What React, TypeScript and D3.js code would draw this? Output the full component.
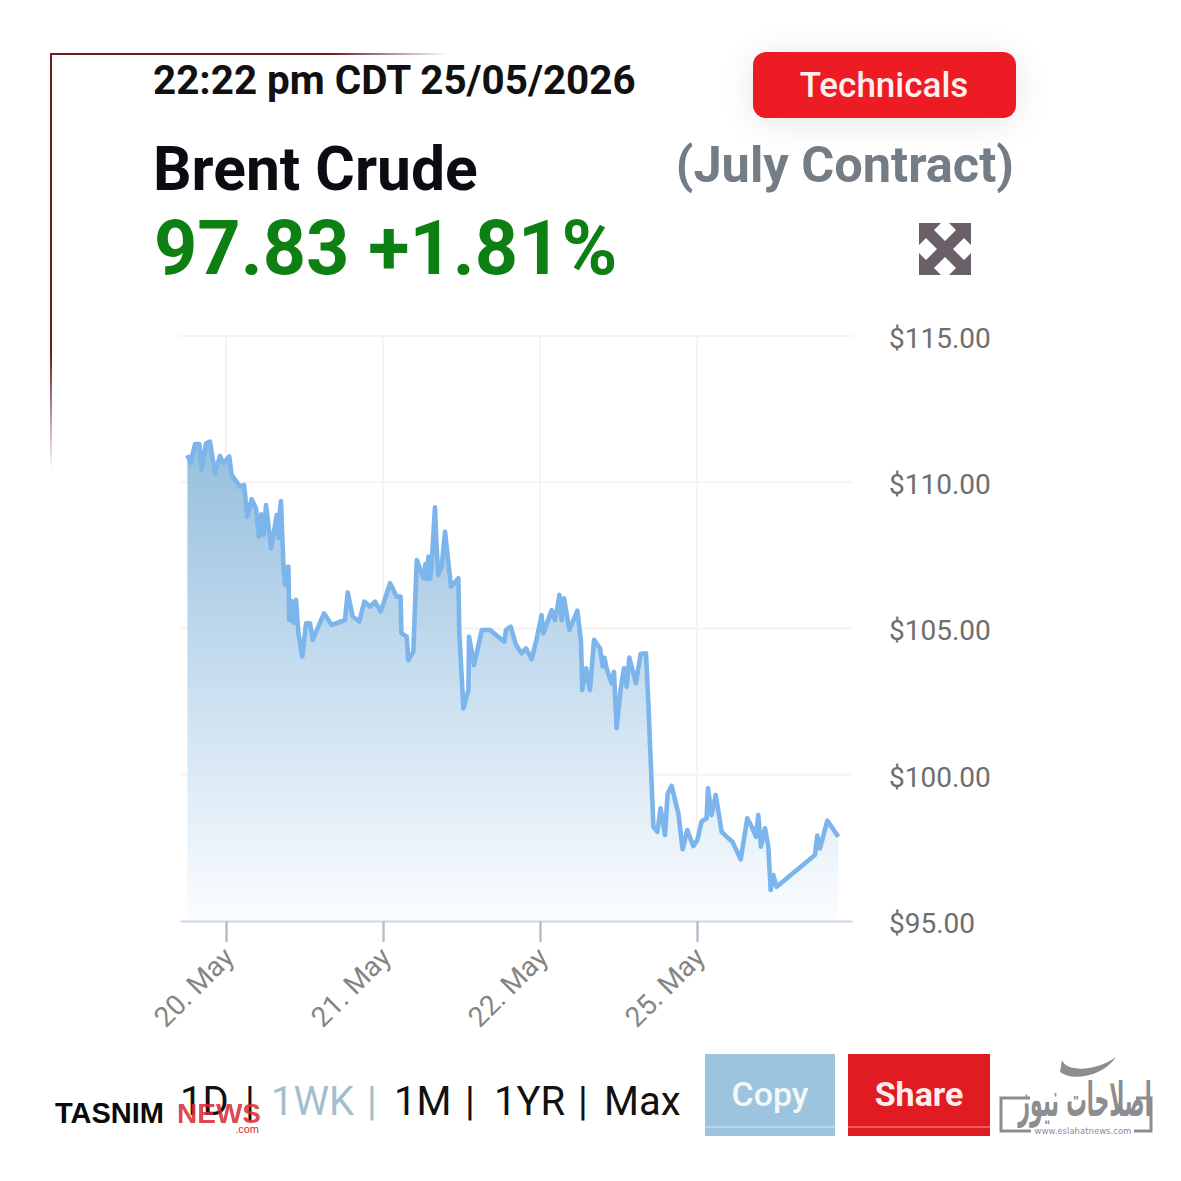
import React, { useEffect, useRef } from "react"
import * as d3 from "d3"

const WIDTH = 1181
const HEIGHT = 1181
const FONT = "Roboto, sans-serif"

// x = trading days after the 20. May tick, y = price in dollars
const dayOffsets = [
    -0.246, -0.225, -0.197, -0.17, -0.155, -0.127, -0.102, -0.07, -0.038, -0.017, 0.021, 0.036,
    0.089, 0.115, 0.136, 0.163, 0.191, 0.21, 0.225, 0.24, 0.255, 0.287, 0.323, 0.335, 0.343, 0.35, 0.365, 0.376, 0.397, 0.403,
    0.415, 0.43, 0.446, 0.461, 0.486, 0.51, 0.535, 0.552, 0.624, 0.673, 0.758, 0.775, 0.807, 0.849, 0.881, 0.917,
    0.949, 0.985, 1.045, 1.087, 1.112, 1.117, 1.151, 1.161, 1.193, 1.215, 1.257, 1.27, 1.28, 1.289, 1.3, 1.31, 1.331,
    1.34, 1.352, 1.374, 1.395, 1.433, 1.48, 1.486, 1.512, 1.544, 1.548, 1.58, 1.629, 1.682, 1.773, 1.783,
    1.813, 1.847, 1.883, 1.911, 1.947, 1.979, 2.01, 2.021, 2.074, 2.095, 2.11, 2.123, 2.138, 2.153, 2.187,
    2.238, 2.261, 2.269, 2.293, 2.318, 2.344, 2.382, 2.4, 2.41, 2.424, 2.456, 2.471, 2.488, 2.514, 2.535, 2.552,
    2.569, 2.611, 2.641, 2.675, 2.69, 2.722, 2.747, 2.768, 2.796, 2.813, 2.838, 2.881, 2.908, 2.938,
    2.976, 3.002, 3.029, 3.061, 3.07, 3.093, 3.119, 3.157, 3.189, 3.225, 3.278, 3.32, 3.348, 3.376,
    3.39, 3.407, 3.433, 3.454, 3.469, 3.486, 3.507, 3.751, 3.766, 3.783, 3.83, 3.9,
]
const prices = [
    110.93, 110.67, 111.31, 111.31, 110.44, 111.33, 111.39, 110.31, 110.9, 110.65, 110.88, 110.25,
    109.85, 109.91, 108.82, 109.42, 109.11, 108.14, 108.9, 108.2, 109.22, 107.74, 108.88, 108.1, 109.0, 109.36, 107.23, 106.49, 107.12, 105.29,
    105.95, 105.2, 105.98, 104.84, 104.04, 105.18, 105.18, 104.61, 105.52, 105.12, 105.29, 106.23, 105.41, 105.24, 105.92, 105.75,
    105.92, 105.58, 106.55, 106.09, 106.09, 104.84, 104.72, 103.92, 104.21, 107.34, 106.72, 107.2, 106.7, 107.46, 106.7, 107.23, 109.14,
    107.9, 106.83, 107.12, 108.31, 106.43, 106.72, 104.84, 102.27, 102.9, 104.72, 103.75, 104.95, 104.95, 104.55, 104.95,
    105.06, 104.44, 104.15, 104.32, 103.95, 104.66, 105.46, 104.83, 105.63, 105.29, 105.7, 106.15, 105.29, 106.03, 104.95,
    105.61, 104.55, 102.9, 103.64, 102.9, 104.61, 104.32, 103.7, 104.0, 103.64, 103.13, 103.52, 101.59, 102.95, 103.64, 103.01,
    104.01, 103.13, 104.13, 104.15, 102.44, 98.23, 98.05, 98.85, 97.94, 99.36, 99.62, 98.68, 97.45, 98.11,
    97.56, 97.77, 98.4, 98.51, 99.54, 98.62, 99.31, 98.05, 97.88, 97.71, 97.11, 98.51, 98.23, 97.88,
    98.62, 97.54, 98.17, 97.54, 96.06, 96.57, 96.17, 97.26, 97.92, 97.48, 98.43, 97.88,
]

const priceTicks = [95, 100, 105, 110, 115]
const dayTicks = [0, 1, 2, 3]
const dayLabels = ["20. May", "21. May", "22. May", "25. May"]

const timestamp = "22:22 pm CDT 25/05/2026"
const title = "Brent Crude"
const quote = "97.83 +1.81%"
const contract = "(July Contract)"

const rangeLabels = ["1D", "|", "1WK", "|", "1M", "|", "1YR", "|", "Max"]
const rangeX = [180, 245, 271, 367, 394, 465, 494, 578, 604]
const rangeColors = ["#111", "#111", "#a3bfce", "#a3bfce", "#111", "#111", "#111", "#111", "#111"]

const EXPAND_ICON =
    "M0 0H22L15 7L26 18L37 7L30 0H52V22L45 15L34 26L45 37L52 30V52H30L37 45L26 34L15 45L22 52H0V30L7 37L18 26L7 15L0 22Z"

const App: React.FC = () => {
    const svgRef = useRef<SVGSVGElement | null>(null)

    useEffect(() => {
        if (!svgRef.current) return
        const svg = d3.select(svgRef.current)
        svg.selectAll("*").remove()

        const x = d3.scaleLinear().domain([-0.293, 3.987]).range([180, 852])
        const y = d3.scaleLinear().domain([95, 115]).range([921, 336])
        const points = dayOffsets.map((d, i) => [d, prices[i]] as [number, number])

        const defs = svg.append("defs")

        const fill = defs
            .append("linearGradient")
            .attr("id", "areaFill")
            .attr("gradientUnits", "userSpaceOnUse")
            .attr("x1", 0)
            .attr("x2", 0)
            .attr("y1", y(d3.max(prices)!))
            .attr("y2", y(95))
        fill.append("stop").attr("offset", 0).attr("stop-color", "#94bfdc")
        fill.append("stop").attr("offset", 0.45).attr("stop-color", "#c3dbee")
        fill.append("stop").attr("offset", 1).attr("stop-color", "#fbfdff")

        // faded dark red corner
        const fadeX = defs
            .append("linearGradient")
            .attr("id", "fadeX")
            .attr("gradientUnits", "userSpaceOnUse")
            .attr("x1", 50)
            .attr("x2", 450)
            .attr("y1", 0)
            .attr("y2", 0)
        fadeX.append("stop").attr("offset", 0.7).attr("stop-color", "#6e1c1f")
        fadeX.append("stop").attr("offset", 1).attr("stop-color", "#6e1c1f").attr("stop-opacity", 0)
        const fadeY = defs
            .append("linearGradient")
            .attr("id", "fadeY")
            .attr("gradientUnits", "userSpaceOnUse")
            .attr("x1", 0)
            .attr("x2", 0)
            .attr("y1", 54)
            .attr("y2", 470)
        fadeY.append("stop").attr("offset", 0.72).attr("stop-color", "#6e1c1f")
        fadeY.append("stop").attr("offset", 1).attr("stop-color", "#6e1c1f").attr("stop-opacity", 0)

        defs.append("filter")
            .attr("id", "glow")
            .attr("x", "-30%")
            .attr("y", "-80%")
            .attr("width", "160%")
            .attr("height", "260%")
            .append("feGaussianBlur")
            .attr("stdDeviation", 18)

        svg.append("rect").attr("x", 50).attr("y", 53).attr("width", 400).attr("height", 2).attr("fill", "url(#fadeX)")
        svg.append("rect").attr("x", 50).attr("y", 54).attr("width", 2).attr("height", 416).attr("fill", "url(#fadeY)")

        // header
        const addText = (
            label: string,
            tx: number,
            ty: number,
            size: number,
            weight: number,
            color: string,
            anchor = "start"
        ) =>
            svg
                .append("text")
                .attr("x", tx)
                .attr("y", ty)
                .attr("font-family", FONT)
                .attr("font-size", size)
                .attr("font-weight", weight)
                .attr("fill", color)
                .attr("text-anchor", anchor)
                .text(label)

        addText(timestamp, 153, 94, 40.4, 700, "#111")
        addText(title, 153, 190, 60.5, 700, "#0b0b12")
        addText(quote, 154, 274, 75.6, 700, "#0e8013")
        addText(contract, 1014, 182, 50.5, 700, "#747c86", "end")

        svg.append("rect")
            .attr("x", 753)
            .attr("y", 56)
            .attr("width", 263)
            .attr("height", 66)
            .attr("rx", 14)
            .attr("fill", "#000")
            .attr("opacity", 0.1)
            .attr("filter", "url(#glow)")
        svg.append("rect")
            .attr("x", 753)
            .attr("y", 52)
            .attr("width", 263)
            .attr("height", 66)
            .attr("rx", 13)
            .attr("fill", "#ed1c24")
        addText("Technicals", 884, 97, 35, 500, "#fdeef0", "middle")

        svg.append("path")
            .attr("transform", "translate(919,223)")
            .attr("d", EXPAND_ICON)
            .attr("fill", "#6b5f68")

        // grid
        const chart = svg.append("g")
        chart
            .selectAll("line.gridY")
            .data(priceTicks.filter(d => d !== 95))
            .enter()
            .append("line")
            .attr("x1", 180)
            .attr("x2", 852)
            .attr("y1", d => y(d))
            .attr("y2", d => y(d))
            .attr("stroke", "#f4f4f6")
            .attr("stroke-width", 2)
        chart
            .selectAll("line.gridX")
            .data(dayTicks)
            .enter()
            .append("line")
            .attr("x1", d => x(d))
            .attr("x2", d => x(d))
            .attr("y1", 336)
            .attr("y2", 921)
            .attr("stroke", "#f4f4f6")
            .attr("stroke-width", 2)

        // series
        const area = d3
            .area<[number, number]>()
            .x(d => x(d[0]))
            .y0(y(95))
            .y1(d => y(d[1]))
        const line = d3
            .line<[number, number]>()
            .x(d => x(d[0]))
            .y(d => y(d[1]))

        chart.append("path").attr("d", area(points)).attr("fill", "url(#areaFill)")
        chart
            .append("path")
            .attr("d", line(points))
            .attr("fill", "none")
            .attr("stroke", "#7cb5ec")
            .attr("stroke-width", 4.6)
            .attr("stroke-linejoin", "round")

        // axes
        const xAxis = d3
            .axisBottom(x)
            .tickValues(dayTicks)
            .tickSizeInner(21)
            .tickSizeOuter(0)
            .tickFormat((_, i) => dayLabels[i])
        const xGroup = chart.append("g").attr("transform", `translate(0,${y(95)})`).call(xAxis)
        xGroup.select(".domain").attr("stroke", "#ccd6eb").attr("stroke-width", 2)
        xGroup.selectAll(".tick line").attr("stroke", "#b5bfd0").attr("stroke-width", 2.5)
        xGroup
            .selectAll<SVGTextElement, number>(".tick text")
            .attr("font-family", FONT)
            .attr("font-size", 28)
            .attr("fill", "#858585")
            .attr("text-anchor", "end")
            .attr("dy", null)
            .attr("x", 0)
            .attr("y", 0)
            .attr("transform", "translate(9,38) rotate(-45)")

        const yAxis = d3
            .axisRight(y)
            .tickValues(priceTicks)
            .tickSize(0)
            .tickPadding(889 - 852)
            .tickFormat(d => `$${(+d).toFixed(2)}`)
        const yGroup = chart.append("g").attr("transform", "translate(852,0)").call(yAxis)
        yGroup.select(".domain").remove()
        yGroup
            .selectAll(".tick text")
            .attr("font-family", FONT)
            .attr("font-size", 28)
            .attr("fill", "#6e6e6e")
            .attr("dy", "0.41em")

        // range buttons
        rangeLabels.forEach((label, i) => {
            addText(label, rangeX[i], 1115, 40, 400, rangeColors[i])
        })

        svg.append("rect").attr("x", 705).attr("y", 1054).attr("width", 130).attr("height", 82).attr("fill", "#9cc4de")
        svg.append("rect").attr("x", 848).attr("y", 1054).attr("width", 142).attr("height", 82).attr("fill", "#e01c22")
        svg.append("line")
            .attr("x1", 705)
            .attr("x2", 990)
            .attr("y1", 1127)
            .attr("y2", 1127)
            .attr("stroke", "#fff")
            .attr("stroke-opacity", 0.6)
        addText("Copy", 770, 1106, 34, 500, "#f3f8fb", "middle")
        addText("Share", 919, 1106, 34, 700, "#fdeeee", "middle")

        // agency marks
        const tasnim = addText("TASNIM", 55, 1123, 29, 700, "#0a0a0a")
        tasnim.attr("font-family", "Liberation Sans")
        const news = addText("NEWS", 177, 1123, 28, 700, "#d92a33")
        news.attr("font-family", "Liberation Sans").attr("opacity", 0.85)
        const dotCom = addText(".com", 259, 1133, 11, 400, "#d92a33", "end")
        dotCom.attr("font-family", "Liberation Sans")

        const logo = "#8b8d8f"
        svg.append("path")
            .attr("d", "M1030 1098H1001V1131H1031M1134 1131H1151V1098H1136")
            .attr("fill", "none")
            .attr("stroke", logo)
            .attr("stroke-width", 3)
        svg.append("path")
            .attr("d", "M1062 1060C1066 1072 1095 1072 1116 1057C1104 1076 1072 1082 1060 1072Z")
            .attr("fill", logo)
        addText("اصلاحات نیوز", 0, 0, 38, 700, logo, "middle")
            .attr("font-family", "DejaVu Sans")
            .attr("direction", "rtl")
            .attr("transform", "translate(1085,1116) scale(0.54,1.25)")
        addText("www.eslahatnews.com", 1083, 1134, 8.5, 400, logo, "middle")
            .attr("font-family", "DejaVu Sans")
    }, [])

    return (
        <svg
            ref={svgRef}
            width={WIDTH}
            height={HEIGHT}
            style={{ position: "absolute", left: 0, top: 0, display: "block", background: "#fff" }}
        />
    )
}

export default App
